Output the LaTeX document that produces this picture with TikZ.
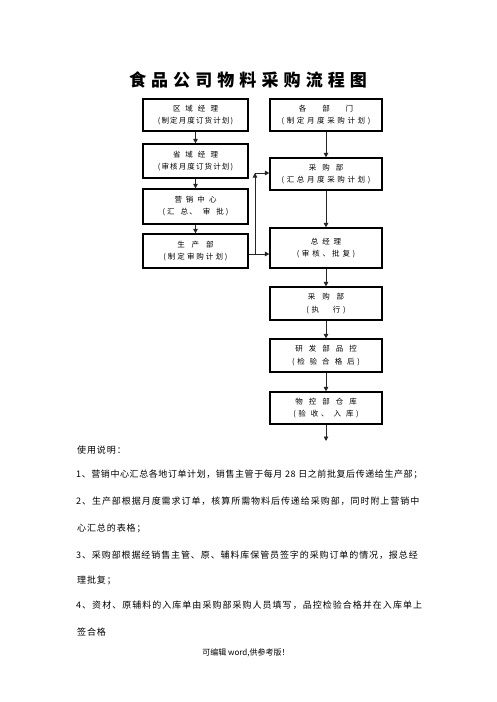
\documentclass[tikz,border=0pt]{standalone}
\usepackage{fontspec}
\usetikzlibrary{arrows.meta}
\newfontfamily\cjk{Noto Sans CJK SC}
\newfontfamily\cjkls[LetterSpace=15]{Noto Sans CJK SC}
\newfontfamily\cjkwide[LetterSpace=35]{Noto Sans CJK SC}
\newfontfamily\cjktitle[LetterSpace=30]{Noto Sans CJK SC}
\newcommand\sgap[1]{\hspace{#1pt}}
\newcommand\lsp[1]{\addfontfeature{LetterSpace=#1}}
\tikzset{
  lbox/.style={draw, line width=1.2pt, inner sep=0pt, align=center, minimum width=105pt,
    font=\cjkls\fontsize{7.5}{12}\selectfont},
  rbox/.style={draw, line width=1.2pt, inner sep=0pt, align=center, minimum width=112pt,
    font=\cjkwide\fontsize{7.5}{12.5}\selectfont},
  arr/.style={-{Triangle[length=4.5pt,width=4.5pt]}, line width=0.9pt, draw=black!85},
  plain/.style={line width=0.9pt, draw=black!85},
  titlestyle/.style={inner sep=0pt, font=\cjktitle\bfseries\fontsize{17}{20}\selectfont},
  bodyl/.style={anchor=west, inner sep=0pt, font=\cjk\fontsize{9}{11}\selectfont},
  foot/.style={inner sep=0pt, font=\cjk\fontsize{8}{10}\selectfont},
}
\begin{document}
\begin{tikzpicture}[x=1pt,y=-1pt]
\useasboundingbox (0,0) rectangle (496,702);
\fill[white] (0,0) rectangle (496,702);

\node[titlestyle] (t) at (248,80) {食品公司物料采购流程图};

% left column
\node[lbox, minimum height=32pt] (a1) at (195.5,115)
  {区\sgap{5}域\sgap{5}经\sgap{5}理\\(制定月度订货计划)};
\node[lbox, minimum height=34pt] (a2) at (195.5,161)
  {省\sgap{5}域\sgap{5}经\sgap{5}理\\(审核月度订货计划)};
\node[lbox, minimum height=35pt] (a3) at (195.5,206.5)
  {营\sgap{4}销\sgap{4}中\sgap{4}心\\(\sgap{2}汇\sgap{6}总、\sgap{6}审\sgap{6}批\sgap{2})};
\node[lbox, minimum height=34pt] (a4) at (195.5,251)
  {生\sgap{7}产\sgap{7}部\\(\sgap{2}制\sgap{2}定\sgap{2}审\sgap{2}购\sgap{2}计\sgap{2}划\sgap{2})};

% right column
\node[rbox, minimum height=32pt] (b1) at (326,115)
  {各\sgap{16}部\sgap{16}门\\(制定月度采购计划)};
\node[rbox, minimum height=32pt] (b2) at (326,174)
  {采\sgap{6}购\sgap{6}部\\(汇总月度采购计划)};
\node[rbox, minimum height=40pt] (b3) at (326,248)
  {总\sgap{4}经\sgap{4}理\\(审\sgap{3}核、\sgap{2}批\sgap{3}复)};
\node[rbox, minimum height=33pt] (b4) at (326,303.5)
  {采\sgap{7}购\sgap{7}部\\(执\sgap{14}行)};
\node[rbox, minimum height=33pt] (b5) at (326,355.5)
  {研\sgap{6}发\sgap{6}部\sgap{6}品\sgap{6}控\\(检\sgap{5}验\sgap{5}合\sgap{5}格\sgap{5}后)};
\node[rbox, minimum height=32pt] (b6) at (326,408)
  {物\sgap{6}控\sgap{6}部\sgap{6}仓\sgap{6}库\\(验\sgap{5}收、\sgap{5}入\sgap{5}库)};

% connectors
\draw[arr] (a1) -- (a2);
\draw[arr] (a2) -- (a3);
\draw[arr] (a3) -- (a4);
\draw[arr] (b1) -- (b2);
\draw[arr] (b2) -- (b3);
\draw[arr] (b3) -- (b4);
\draw[arr] (b4) -- (b5);
\draw[arr] (b5) -- (b6);
\coordinate (e) at (326,441);
\draw[arr] (b6) -- (e);

\coordinate (j) at (255,254);
\coordinate (c) at (255,173);
\draw[plain] (a4.east |- j) -- (j);
\draw[arr] (j) -- (b3.west |- j);
\draw[arr] (j) -- (c);
\draw[arr] (c) -- (b2.west |- c);

% notes
\node[bodyl] (n0) at (77,450) {\lsp{10}使用说明：};
\node[bodyl] (n1) at (76,474) {\lsp{6.5}1、营销中心汇总各地订单计划，销售主管于每月 28 日之前批复后传递给生产部；};
\node[bodyl] (n2) at (76,501) {\lsp{10.5}2、生产部根据月度需求订单，核算所需物料后传递给采购部，同时附上营销中};
\node[bodyl] (n3) at (77,528) {\lsp{10}心汇总的表格；};
\node[bodyl] (n4) at (76,555) {\lsp{10}3、采购部根据经销售主管、原、辅料库保管员签字的采购订单的情况，报总经};
\node[bodyl] (n5) at (77,580) {\lsp{10}理批复；};
\node[bodyl] (n6) at (76,605) {\lsp{11.4}4、资材、原辅料的入库单由采购部采购人员填写，品控检验合格并在入库单上};
\node[bodyl] (n7) at (77,632) {\lsp{10}签合格};

\node[foot] (f) at (246,653) {可编辑 word,供参考版！};
\end{tikzpicture}
\end{document}
